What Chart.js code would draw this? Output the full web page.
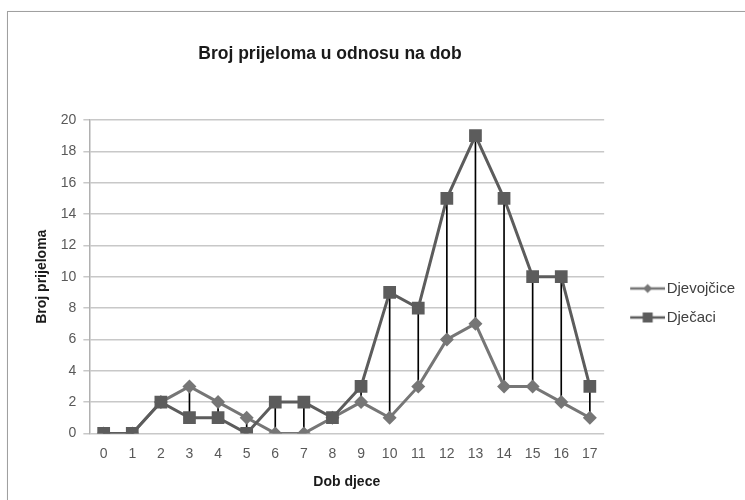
<!DOCTYPE html>
<html lang="hr">
<head>
  <meta charset="UTF-8">
  <title>Broj prijeloma u odnosu na dob</title>
  <script src="https://cdn.jsdelivr.net/npm/chart.js"></script>
  <style>
    body {
      margin: 0;
      background: #fff;
    }
    #wrap {
      position: relative;
      width: 745px;
      height: 500px;
    }
    #frame {
      position: absolute;
      left: 7px;
      top: 11px;
      width: 745px;
      height: 500px;
      border: 1px solid #a0a0a0;
      box-shadow: 1px 1px 2px rgba(0,0,0,0.25);
    }
    canvas {
      position: absolute;
      left: 0;
      top: 0;
    }
  </style>
</head>
<body>
  <div id="wrap">
    <div id="frame"></div>
    <canvas id="fracChart" width="745" height="500"></canvas>
  </div>

  <script>
    const dob = ['0','1','2','3','4','5','6','7','8','9','10','11','12','13','14','15','16','17'];
    const djevojcice = [0, 0, 2, 3, 2, 1, 0, 0, 1, 2, 1, 3, 6, 7, 3, 3, 2, 1];
    const djecaci    = [0, 0, 2, 1, 1, 0, 2, 2, 1, 3, 9, 8, 15, 19, 15, 10, 10, 3];
    const yTicks = [0, 2, 4, 6, 8, 10, 12, 14, 16, 18, 20];

    const fontName = "'Liberation Sans', Arial, sans-serif";
    const girlColor = '#767676';
    const boyColor = '#5c5c5c';

    // vertical drop lines between the two series
    const dropLines = dob.map((_, i) => [Math.min(djevojcice[i], djecaci[i]), Math.max(djevojcice[i], djecaci[i])]);

    // legend picture: line with marker; the image is wider than its legend box
    // so the line sits close to the text like in the Excel legend
    function legendIcon(shape, color) {
      const c = document.createElement('canvas');
      c.width = 62; c.height = 14;
      const g = c.getContext('2d');
      g.strokeStyle = color;
      g.lineWidth = 2.5;
      g.beginPath(); g.moveTo(27, 7); g.lineTo(62, 7); g.stroke();
      g.fillStyle = color;
      g.beginPath();
      const cx = 44.5;
      if (shape === 'rect') {
        g.rect(cx - 5, 2, 10, 10);
      } else {
        g.moveTo(cx, 2.5); g.lineTo(cx + 4.5, 7); g.lineTo(cx, 11.5); g.lineTo(cx - 4.5, 7); g.closePath();
      }
      g.fill();
      return c;
    }
    const icons = [legendIcon('rectRot', girlColor), legendIcon('rect', boyColor)];

    const titlePlugin = {
      id: 'excelTitle',
      afterDraw(chart) {
        const ctx = chart.ctx;
        ctx.save();
        ctx.font = "bold 17.5px " + fontName;
        ctx.fillStyle = '#1a1a1a';
        ctx.textAlign = 'center';
        ctx.textBaseline = 'middle';
        ctx.fillText('Broj prijeloma u odnosu na dob', 330, 54);
        ctx.restore();
      }
    };

    const ctx = document.getElementById('fracChart').getContext('2d');
    new Chart(ctx, {
      data: {
        labels: dob,
        datasets: [
          {
            type: 'line',
            label: 'Djevojčice',
            data: djevojcice,
            borderColor: girlColor,
            backgroundColor: girlColor,
            borderWidth: 3,
            pointStyle: 'rectRot',
            pointRadius: 7,
            pointBorderWidth: 0,
            tension: 0,
            order: 2
          },
          {
            type: 'line',
            label: 'Dječaci',
            data: djecaci,
            borderColor: boyColor,
            backgroundColor: boyColor,
            borderWidth: 3,
            pointStyle: 'rect',
            pointRadius: 9,
            pointBorderWidth: 0,
            tension: 0,
            order: 1
          },
          {
            type: 'bar',
            label: 'drop',
            data: dropLines,
            backgroundColor: '#000',
            borderWidth: 0,
            barThickness: 1,
            order: 3
          }
        ]
      },
      options: {
        responsive: false,
        animation: false,
        layout: { padding: { left: 30, top: 120, right: 0, bottom: 5 } },
        plugins: {
          tooltip: { enabled: false },
          legend: {
            position: 'right',
            align: 'center',
            labels: {
              usePointStyle: true,
              pointStyleWidth: 50,
              padding: 5,
              color: '#404040',
              font: { family: fontName, size: 15, lineHeight: 1.6 },
              generateLabels(chart) {
                // text as a one-line array so the item height follows the line height
                return chart.data.datasets.slice(0, 2).map((ds, i) => ({
                  text: [ds.label],
                  pointStyle: icons[i],
                  fillStyle: ds.borderColor,
                  strokeStyle: ds.borderColor,
                  lineWidth: 0,
                  fontColor: '#404040',
                  datasetIndex: i
                }));
              }
            }
          }
        },
        scales: {
          x: {
            offset: true,
            grid: { display: false, drawTicks: false },
            border: { display: false },
            ticks: { color: '#595959', font: { family: fontName, size: 14 }, padding: 12, maxRotation: 0, autoSkip: false },
            title: { display: true, text: 'Dob djece', color: '#1a1a1a', font: { family: fontName, size: 14, weight: 'bold' }, padding: { top: 0 } }
          },
          y: {
            min: 0,
            max: 20,
            afterBuildTicks(axis) { axis.ticks = yTicks.map(v => ({ value: v })); },
            grid: { color: '#c8c8c8', lineWidth: 1.5, tickLength: 6, tickColor: '#c8c8c8' },
            border: { display: true, color: '#b0b0b0', width: 1.5 },
            ticks: { color: '#595959', font: { family: fontName, size: 14 }, padding: 7 },
            title: { display: true, text: 'Broj prijeloma', color: '#1a1a1a', font: { family: fontName, size: 14, weight: 'bold' }, padding: { bottom: 3 } }
          }
        }
      },
      plugins: [titlePlugin]
    });
  </script>
</body>
</html>
